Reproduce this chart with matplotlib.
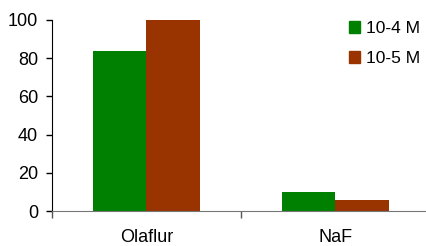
import numpy as np
import matplotlib.pyplot as plt
from matplotlib.patches import Patch

plt.rcParams['font.family'] = ['Liberation Sans', 'DejaVu Sans']

categories = ["Olaflur", "NaF"]
series_names = ["10-4 M", "10-5 M"]
vals_1e4 = [84, 10]
vals_1e5 = [100, 6]
colors = ["#008000", "#993300"]

fig = plt.figure(figsize=(4.27, 2.46), dpi=100)
ax = fig.add_axes([52/427, 35/246, 378/427, 191/246])

x = np.arange(len(categories))
w = 0.285
ax.bar(x - w/2, vals_1e4, w, color=colors[0], label=series_names[0])
ax.bar(x + w/2, vals_1e5, w, color=colors[1], label=series_names[1])

ax.set_xlim(-0.5, 1.5)
ax.set_ylim(0, 100)
ax.set_yticks(np.arange(0, 101, 20))
ax.tick_params(axis='y', direction='out', length=4, width=1, pad=6,
               labelsize=13, colors='black')

ax.set_xticks(x)
ax.set_xticklabels(categories)
ax.tick_params(axis='x', which='major', length=0, pad=13, labelsize=13)
ax.set_xticks([-0.5, 0.5], minor=True)
ax.tick_params(axis='x', which='minor', direction='out', length=5,
               width=1, color='#555555')

for s in ['top', 'right']:
    ax.spines[s].set_visible(False)
ax.spines['left'].set_color('black')
ax.spines['bottom'].set_color('#777777')
ax.spines['bottom'].set_zorder(3)

handles = [Patch(color=c) for c in colors]
ax.legend(handles, series_names, loc='upper right', frameon=False,
          fontsize=12.5, handlelength=0.65, handleheight=0.65,
          handletextpad=0.35, labelspacing=0.85,
          bbox_to_anchor=(1.015, 1.075))

fig.savefig("out.png", dpi=100)
